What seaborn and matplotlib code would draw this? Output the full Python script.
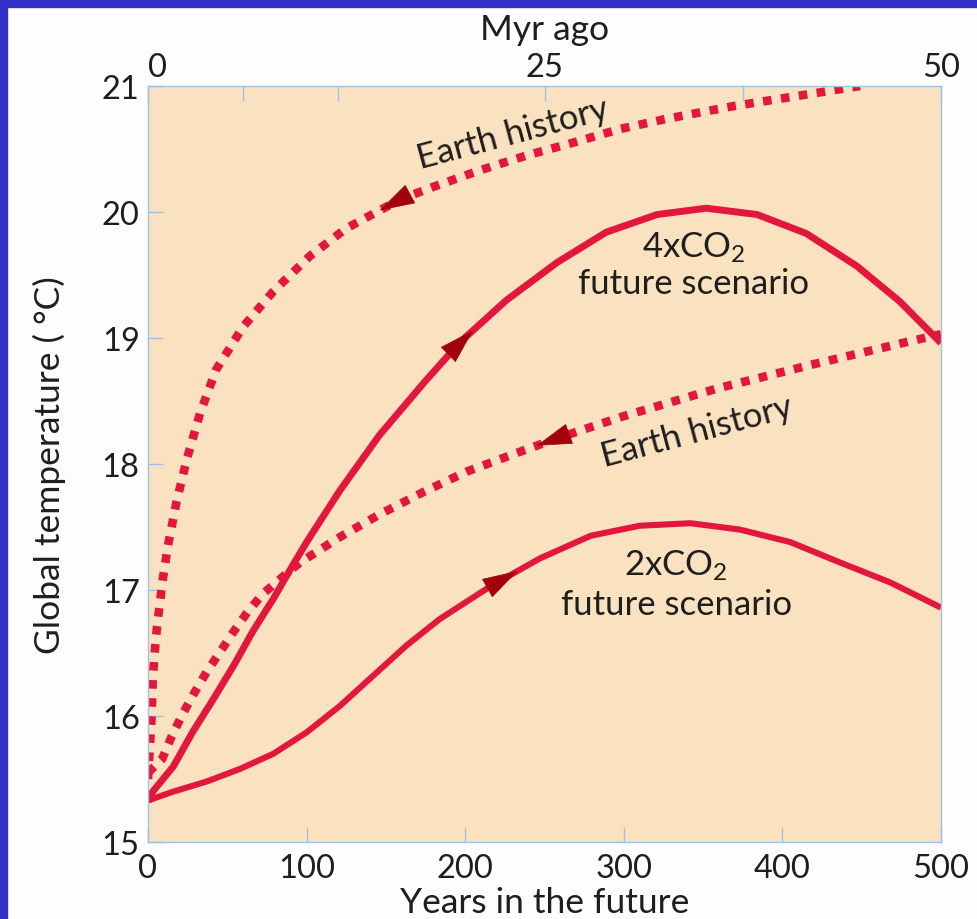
import numpy as np
import pandas as pd
import matplotlib
matplotlib.use("Agg")
import matplotlib.pyplot as plt
from matplotlib.patches import Rectangle
import seaborn as sns

# ---------------- data ----------------
years_4x = [0, 3, 16, 28, 41, 54, 66, 79, 91, 100, 121, 146, 175, 197, 226, 258, 289, 321, 352, 384, 415, 447, 474, 500]
temp_4x = [15.32, 15.4, 15.6, 15.87, 16.13, 16.4, 16.67, 16.93, 17.19, 17.38, 17.79, 18.23, 18.66, 18.97,
           19.3, 19.6, 19.84, 19.98, 20.03, 19.98, 19.83, 19.57, 19.29, 18.96]

years_2x = [0, 16, 37, 58, 79, 100, 121, 142, 163, 184, 216, 247, 279, 310, 342, 373, 405, 436, 468, 500]
temp_2x = [15.33, 15.4, 15.48, 15.58, 15.7, 15.87, 16.08, 16.32, 16.56, 16.77, 17.03, 17.25, 17.43,
           17.51, 17.53, 17.48, 17.38, 17.22, 17.06, 16.86]

years_hist_hi = [0, 1.3, 2.3, 3, 4.4, 5.7, 7.6, 9.5, 12.7, 18, 24.5, 33, 43, 60, 79, 102, 125, 159, 180,
                 209, 239, 268, 298, 327, 369, 449]
temp_hist_hi = [15.5, 15.78, 16.0, 16.3, 16.53, 16.71, 16.91, 17.1, 17.36, 17.7, 18.04, 18.41, 18.75, 19.09,
                19.37, 19.65, 19.87, 20.1, 20.2, 20.33, 20.45, 20.55, 20.66, 20.74, 20.84, 21.0]

years_hist_lo = [0, 9, 15, 21.6, 28.6, 37, 45, 54, 63, 72.5, 84.5, 96, 121, 146, 174, 201, 233, 257, 300,
                 359, 419, 479, 500]
temp_hist_lo = [15.55, 15.66, 15.84, 16.01, 16.17, 16.35, 16.5, 16.67, 16.83, 16.97, 17.1, 17.22, 17.42,
                17.6, 17.78, 17.94, 18.09, 18.2, 18.38, 18.6, 18.79, 18.97, 19.03]

# arrow positions (years) along each curve and their direction (+1 forward, -1 backward)
arrow_x = {"4x": 199, "2x": 227, "hist_hi": 152, "hist_lo": 251}
arrow_dir = {"4x": 1, "2x": 1, "hist_hi": -1, "hist_lo": -1}

x_ticks = [0, 100, 200, 300, 400, 500]
y_ticks = [15, 16, 17, 18, 19, 20, 21]
top_ticks = [0, 25, 50]
top_minor = [6, 12, 37.5]

# ---------------- style ----------------
sns.set_theme(style="white")
plt.rcParams["font.family"] = ["Lato", "DejaVu Sans"]
plt.rcParams["mathtext.fontset"] = "custom"
plt.rcParams["mathtext.rm"] = "Lato"
plt.rcParams["mathtext.it"] = "Lato:italic"

LINE = "#E3173E"
ARROW = "#A3000E"
TXT = "#1E1E1E"
TICKC = "#9FC2E4"
BLUE = "#3530C8"

fig = plt.figure(figsize=(9.78, 9.2), dpi=100, facecolor="#FDFDFD")
ax = fig.add_axes([148 / 978, 1 - 843 / 920, (941 - 148) / 978, (843 - 87) / 920])
ax.set_facecolor("#FAE2C0")

fig.patches.append(Rectangle((0, 0), 7 / 978, 1, transform=fig.transFigure, color=BLUE, zorder=10))
fig.patches.append(Rectangle((0, 1 - 8 / 920), 1, 8 / 920, transform=fig.transFigure, color=BLUE, zorder=10))

series = {
    "4x": (years_4x, temp_4x),
    "2x": (years_2x, temp_2x),
    "hist_hi": (years_hist_hi, temp_hist_hi),
    "hist_lo": (years_hist_lo, temp_hist_lo),
}

dot_style = dict(linestyle=(0, (1.0, 1.1)), dash_capstyle="butt")
sns.lineplot(x=years_hist_hi, y=temp_hist_hi, ax=ax, color=LINE, lw=6.2, sort=False, **dot_style)
sns.lineplot(x=years_hist_lo, y=temp_hist_lo, ax=ax, color=LINE, lw=6.2, sort=False, **dot_style)
sns.lineplot(x=years_4x, y=temp_4x, ax=ax, color=LINE, lw=5.0, sort=False, solid_capstyle="butt")
sns.lineplot(x=years_2x, y=temp_2x, ax=ax, color=LINE, lw=4.4, sort=False, solid_capstyle="butt")

# arrow heads on the curves
for key, (xs, ys) in series.items():
    x0 = arrow_x[key]
    d = arrow_dir[key]
    xa, xb = x0 - d * 6, x0 + d * 6
    ya, yb = np.interp(xa, xs, ys), np.interp(xb, xs, ys)
    ax.annotate("", xy=(xb, yb), xytext=(xa, ya),
                arrowprops=dict(arrowstyle="-|>,head_length=1.2,head_width=0.36",
                                color=ARROW, lw=0.5, mutation_scale=20,
                                shrinkA=0, shrinkB=0), zorder=5)

# annotations
fs_ann = 25
ax.text(230, 20.63, "Earth history", rotation=15, ha="center", va="center", fontsize=fs_ann, color=TXT)
ax.text(346, 18.26, "Earth history", rotation=15, ha="center", va="center", fontsize=fs_ann, color=TXT)
ax.text(344, 19.72, "4xCO$_\\mathregular{2}$", ha="center", va="center", fontsize=fs_ann, color=TXT)
ax.text(344, 19.44, "future scenario", ha="center", va="center", fontsize=fs_ann, color=TXT)
ax.text(333, 17.2, "2xCO$_\\mathregular{2}$", ha="center", va="center", fontsize=fs_ann, color=TXT)
ax.text(333, 16.89, "future scenario", ha="center", va="center", fontsize=fs_ann, color=TXT)

# axes
ax.set_xlim(0, 500)
ax.set_ylim(15, 21)
ax.set_xticks(x_ticks)
ax.set_yticks(y_ticks)
ax.tick_params(axis="both", direction="in", length=11, width=1, color=TICKC,
               labelsize=23.5, labelcolor=TXT)
ax.tick_params(axis="x", pad=8, bottom=True)
ax.tick_params(axis="y", pad=6, left=True)
ax.set_xlabel("Years in the future", fontsize=25.5, color=TXT)
ax.xaxis.set_label_coords(0.5, -0.058)
ax.set_ylabel("Global temperature ( °C)", fontsize=25.5, color=TXT)
ax.yaxis.set_label_coords(-0.104, 0.5)
for s in ax.spines.values():
    s.set_visible(True)
    s.set_color(TICKC)
    s.set_linewidth(1.0)
    s.set_linestyle((0, (3, 1)))

sec = ax.secondary_xaxis("top", functions=(lambda x: x / 10, lambda x: x * 10))
sec.set_xticks(top_ticks)
sec.set_xticks(top_minor, minor=True)
sec.tick_params(axis="x", which="both", direction="in", length=11, width=1, color=TICKC,
                labelsize=23.5, labelcolor=TXT, pad=3)
sec.spines["top"].set_visible(False)
sec.set_xlabel("Myr ago", fontsize=25.5, color=TXT, labelpad=9)
for lbl in sec.get_xticklabels():
    if lbl.get_text() == "0":
        lbl.set_horizontalalignment("left")

fig.savefig("out.png", dpi=100, facecolor=fig.get_facecolor())
